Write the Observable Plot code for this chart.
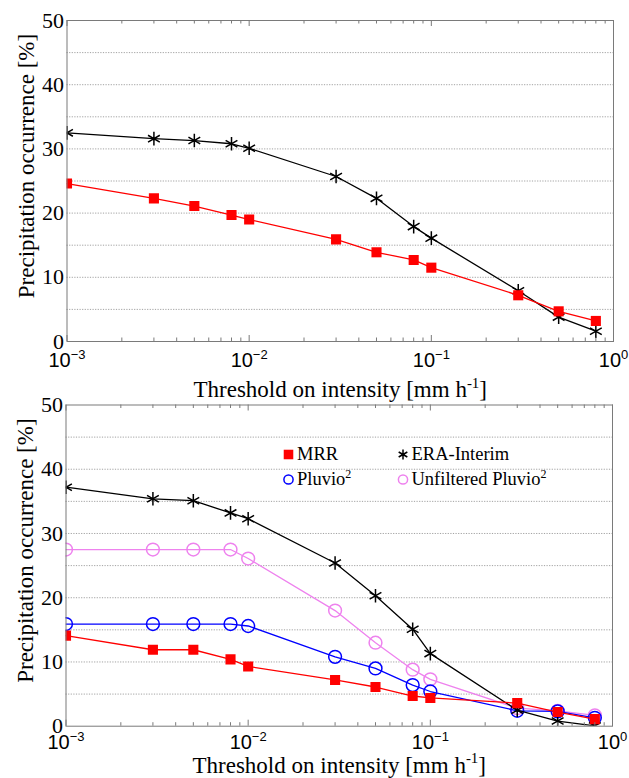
<!DOCTYPE html>
<html><head><meta charset="utf-8">
<script src="https://cdn.jsdelivr.net/npm/d3@7"></script>
<script src="https://cdn.jsdelivr.net/npm/@observablehq/plot@0.6"></script>
<style>
body{margin:0;background:#fff;}
#chart{width:629px;}
#chart svg{display:block;}
</style></head><body><div id="chart"></div>
<script>
// thresholds on intensity [mm h-1]
const thresholds = [0.001, 0.003, 0.005, 0.008, 0.01, 0.03, 0.05, 0.08, 0.1, 0.3, 0.5, 0.8];
// top panel (%)
const topMRR = [24.6, 22.3, 21.1, 19.7, 19.0, 15.9, 13.9, 12.7, 11.5, 7.2, 4.7, 3.2];
const topERA = [32.5, 31.6, 31.3, 30.8, 30.1, 25.7, 22.3, 17.9, 16.1, 7.9, 3.8, 1.6];
// bottom panel (%)
const botMRR = [14.1, 11.9, 11.9, 10.4, 9.3, 7.2, 6.1, 4.7, 4.4, 3.6, 2.2, 1.1];
const botERA = [37.2, 35.4, 35.1, 33.2, 32.3, 25.4, 20.3, 15.1, 11.3, 2.5, 0.8, 0.05];
const botPluvio = [15.9, 15.9, 15.9, 15.9, 15.6, 10.8, 9.0, 6.4, 5.4, 2.4, 2.3, 1.3];
const botUnfiltered = [27.5, 27.5, 27.5, 27.5, 26.1, 18.0, 13.0, 8.8, 7.3, 2.8, 2.4, 1.7];
// ticks and labels
const yTicks = [0, 10, 20, 30, 40, 50];
const gridValues = [5, 10, 15, 20, 25, 30, 35, 40, 45];
const xMajor = [0.001, 0.01, 0.1, 1];
const xMinor = [0.002,0.003,0.004,0.005,0.006,0.007,0.008,0.009,0.02,0.03,0.04,0.05,0.06,0.07,0.08,0.09,0.2,0.3,0.4,0.5,0.6,0.7,0.8,0.9];
const yLabel = "Precipitation occurrence [%]";
const xLabel = "Threshold on intensity [mm h^{-1}]";
const legendLabels = ["MRR", "Pluvio^{2}", "ERA-Interim", "Unfiltered Pluvio^{2}"];

const SERIF = "'Liberation Serif', 'DejaVu Serif', serif";
const SANS = "'Liberation Sans', Arial, sans-serif";

const asterisk = {
  draw(ctx, size) {
    const r = Math.sqrt(size / Math.PI);
    for (let k = 0; k < 3; k++) {
      const a = Math.PI / 2 + k * Math.PI / 3;
      ctx.moveTo(r * Math.cos(a), r * Math.sin(a));
      ctx.lineTo(-r * Math.cos(a), -r * Math.sin(a));
    }
  }
};

const styles = {
  MRR: {color: "#ff0000", symbol: "square", r: 5.7, fill: "#ff0000", stroke: "none", sw: 0},
  ERA: {color: "#000000", symbol: asterisk, r: 6.8, fill: "none", stroke: "#000000", sw: 1.5},
  Pluvio: {color: "#0000ff", symbol: "circle", r: 6.4, fill: "none", stroke: "#0000ff", sw: 1.5},
  Unf: {color: "#ee82ee", symbol: "circle", r: 6.4, fill: "none", stroke: "#ee82ee", sw: 1.5}
};

function panel(o) {
  const frameH = o.height - o.marginTop - o.marginBottom;
  const marks = [
    Plot.ruleY(gridValues, {y: d => d, stroke: "#8a8a8a", strokeWidth: 0.8, strokeDasharray: "1.2,1.4"})
  ];
  for (const s of o.series) {
    const st = styles[s.key];
    const data = thresholds.map((x, i) => ({x, y: s.values[i]}));
    marks.push(Plot.line(data, {x: "x", y: "y", stroke: st.color, strokeWidth: 1.3, clip: true}));
    marks.push(Plot.dot(data, {x: "x", y: "y", symbol: st.symbol, r: st.r, fill: st.fill, stroke: st.stroke, strokeWidth: st.sw, clip: true}));
  }
  marks.push(
    Plot.frame({stroke: "#7a7a7a"}),
    Plot.tickX(xMinor, {x: d => d, stroke: "#7a7a7a", insetTop: frameH - 3.5}),
    Plot.tickX(xMinor, {x: d => d, stroke: "#7a7a7a", insetBottom: frameH - 3.5}),
    Plot.tickX(xMajor, {x: d => d, stroke: "#7a7a7a", insetTop: frameH - 6}),
    Plot.tickX(xMajor, {x: d => d, stroke: "#7a7a7a", insetBottom: frameH - 6}),
    Plot.text(yTicks, {y: d => d, frameAnchor: "left", dx: -3, textAnchor: "end", lineAnchor: "middle", text: d => String(d), fontFamily: SERIF, fontSize: 22, fill: "#000"}),
    Plot.text(xMajor, {x: d => d, frameAnchor: "bottom", dy: o.xTickDy, textAnchor: "middle", lineAnchor: "middle", text: d => {
      const e = Math.round(Math.log10(d));
      return "10^{" + (e < 0 ? "\u2212" + (-e) : String(e)) + "}";
    }, fontFamily: SANS, fontSize: 20, fill: "#000"}),
    Plot.text([xLabel], {frameAnchor: "bottom", dy: o.xLabelDy, textAnchor: "middle", lineAnchor: "middle", text: d => d, fontFamily: SERIF, fontSize: 23, fill: "#000"}),
    Plot.text([yLabel], {frameAnchor: "left", dx: -40.5, dy: -15, rotate: -90, textAnchor: "middle", lineAnchor: "middle", text: d => d, fontFamily: SERIF, fontSize: 23, fill: "#000"})
  );
  if (o.legend) {
    const legendKeys = ["MRR", "Pluvio", "ERA", "Unf"];
    const legendR = {MRR: 5.4, Pluvio: 4.6, ERA: 5, Unf: 4.6};
    legendLabels.forEach((label, i) => {
      const col = Math.floor(i / 2), row = i % 2;
      const st = styles[legendKeys[i]];
      const dxm = 222.5 + col * 114.5, dy = 49.5 + row * 25;
      marks.push(Plot.dot([label], {frameAnchor: "top-left", dx: dxm, dy, symbol: st.symbol, r: legendR[legendKeys[i]], fill: st.fill, stroke: st.stroke, strokeWidth: st.sw}));
      marks.push(Plot.text([label], {frameAnchor: "top-left", dx: dxm + 8.5, dy, textAnchor: "start", lineAnchor: "middle", text: d => d, fontFamily: SERIF, fontSize: 18.5, fill: "#000"}));
    });
  }
  return Plot.plot({
    width: 629,
    height: o.height,
    marginTop: o.marginTop,
    marginBottom: o.marginBottom,
    marginLeft: o.marginLeft,
    marginRight: o.marginRight,
    x: {type: "log", domain: [0.001, 1], axis: null},
    y: {domain: [0, 50], axis: null},
    style: {background: "#fff", overflow: "visible"},
    marks
  });
}

function fixSup(svg) {
  const ns = "http://www.w3.org/2000/svg";
  svg.querySelectorAll("text").forEach(t => {
    const s = t.textContent;
    const m = s.match(/^(.*?)\^\{(.+?)\}(.*)$/);
    if (!m) return;
    while (t.firstChild) t.removeChild(t.firstChild);
    const a = document.createElementNS(ns, "tspan"); a.textContent = m[1]; t.appendChild(a);
    const b = document.createElementNS(ns, "tspan"); b.textContent = m[2];
    b.setAttribute("font-size", "0.65em"); b.setAttribute("dy", "-0.62em"); t.appendChild(b);
    if (m[3]) {
      const c = document.createElementNS(ns, "tspan"); c.textContent = m[3];
      c.setAttribute("dy", (0.65 * 0.62).toFixed(3) + "em"); t.appendChild(c);
    }
  });
}

const topPanel = panel({
  height: 395, marginTop: 20, marginBottom: 54, marginLeft: 66.5, marginRight: 16,
  xTickDy: 19.5, xLabelDy: 48.5,
  series: [{key: "ERA", values: topERA}, {key: "MRR", values: topMRR}]
});
const bottomPanel = panel({
  height: 383, marginTop: 9.5, marginBottom: 52.3, marginLeft: 65.5, marginRight: 17,
  xTickDy: 16, xLabelDy: 39, legend: true,
  series: [{key: "Unf", values: botUnfiltered}, {key: "Pluvio", values: botPluvio}, {key: "ERA", values: botERA}, {key: "MRR", values: botMRR}]
});
fixSup(topPanel); fixSup(bottomPanel);
document.getElementById("chart").append(topPanel, bottomPanel);
</script>
</body></html>
